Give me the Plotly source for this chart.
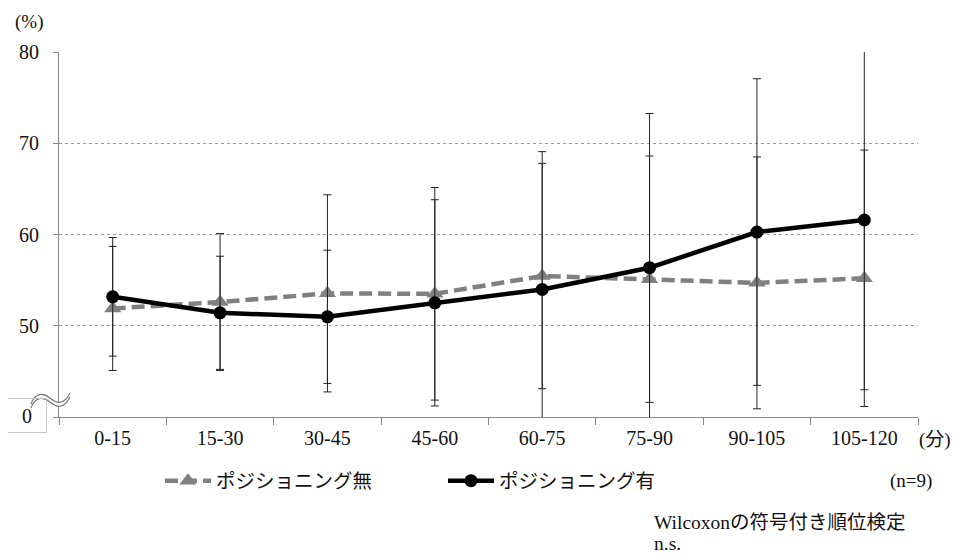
import plotly.graph_objects as go

categories = ["0-15", "15-30", "30-45", "45-60", "60-75", "75-90", "90-105", "105-120"]
without_mean = [51.9, 52.6, 53.55, 53.5, 55.45, 55.1, 54.7, 55.2]
without_sd = [6.8, 7.5, 10.8, 11.65, 12.35, 13.5, 13.8, 14.05]
with_mean = [53.17, 51.42, 50.98, 52.51, 53.98, 56.36, 60.27, 61.59]
with_sd = [6.5, 6.2, 7.3, 11.3, 15.1, 16.9, 16.8, 18.6]
ytick_vals = [40, 50, 60, 70, 80]
ytick_text = ["", "50", "60", "70", "80"]

FONT = "'Liberation Serif', 'Noto Sans CJK JP', serif"
OFF = 8  # page body margin
W, H = 958 - OFF, 557 - OFF
# plot area in page pixels: x 59..918, y 52..417
PX0, PX1, PY0, PY1 = 59, 918, 52, 417
L, R, T, B = PX0 - OFF, W - (PX1 - OFF), PY0 - OFF, H - (PY1 - OFF)
PW, PH = PX1 - PX0, PY1 - PY0


def px(x):
    return (x - PX0) / PW


def py(y):
    return (PY1 - y) / PH


fig = go.Figure()
fig.add_trace(go.Scatter(
    x=categories, y=without_mean, name="ポジショニング無", mode="lines+markers",
    line=dict(color="#808080", width=4.5, dash="13px,6px"),
    marker=dict(symbol="triangle-up", size=15, color="#808080"),
    error_y=dict(type="data", array=without_sd, visible=True, color="#222", thickness=1, width=4),
    legend="legend", showlegend=True,
))
fig.add_trace(go.Scatter(
    x=categories, y=with_mean, name="ポジショニング有", mode="lines+markers",
    line=dict(color="black", width=4.5),
    marker=dict(symbol="circle", size=13, color="black"),
    error_y=dict(type="data", array=with_sd, visible=True, color="#222", thickness=1, width=4),
    legend="legend2", showlegend=True,
))


def P(x, y):
    return f"{px(x):.5f},{py(y):.5f}"


fill_path = ("M " + P(31, 404) + " C " + P(35, 393) + " " + P(43, 392) + " " + P(50, 398)
             + " C " + P(57, 404) + " " + P(64, 405) + " " + P(70, 393)
             + " L " + P(70, 397) + " C " + P(64, 409) + " " + P(57, 408) + " " + P(50, 402)
             + " C " + P(43, 396) + " " + P(35, 397) + " " + P(31, 408) + " Z")
top_path = ("M " + P(31, 404) + " C " + P(35, 393) + " " + P(43, 392) + " " + P(50, 398)
            + " C " + P(57, 404) + " " + P(64, 405) + " " + P(70, 393))
bot_path = ("M " + P(31, 408) + " C " + P(35, 397) + " " + P(43, 396) + " " + P(50, 402)
            + " C " + P(57, 408) + " " + P(64, 409) + " " + P(70, 397))
shapes = [
    dict(type="path", xref="paper", yref="paper", path=fill_path, fillcolor="white",
         line=dict(width=0), layer="above"),
    dict(type="path", xref="paper", yref="paper", path=top_path,
         line=dict(color="#777", width=1.2), layer="above"),
    dict(type="path", xref="paper", yref="paper", path=bot_path,
         line=dict(color="#777", width=1.2), layer="above"),
]

annotations = [
    dict(text="(%)", x=px(29), y=py(22), xref="paper", yref="paper", showarrow=False,
         xanchor="center", yanchor="middle", font=dict(size=19)),
    dict(text="0", x=px(27), y=py(415.5), xref="paper", yref="paper", showarrow=False,
         xanchor="center", yanchor="middle", width=36, height=31,
         bordercolor="#c8c8c8", borderwidth=1, font=dict(size=20)),
    dict(text="(分)", x=px(953), y=py(440), xref="paper", yref="paper", showarrow=False,
         xanchor="right", yanchor="middle", font=dict(size=19)),
    dict(text="(n=9)", x=px(911), y=py(481), xref="paper", yref="paper", showarrow=False,
         xanchor="center", yanchor="middle", font=dict(size=19)),
    dict(text="Wilcoxonの符号付き順位検定", x=px(652), y=py(522), xref="paper", yref="paper",
         showarrow=False, xanchor="left", yanchor="middle", font=dict(size=19.5)),
    dict(text="n.s.", x=px(652), y=py(543), xref="paper", yref="paper",
         showarrow=False, xanchor="left", yanchor="middle", font=dict(size=19.5)),
]

fig.update_layout(
    width=W, height=H,
    margin=dict(l=L, r=R, t=T, b=B, autoexpand=False),
    paper_bgcolor="white", plot_bgcolor="white",
    showlegend=True,
    font=dict(family=FONT, size=20, color="#111"),
    xaxis=dict(
        type="category", range=[-0.5, len(categories) - 0.5], tickson="boundaries",
        ticks="outside", ticklen=7, tickcolor="#888", showgrid=False,
        showline=True, linecolor="#888", linewidth=1, tickfont=dict(size=20),
        ticklabelstandoff=3,
    ),
    yaxis=dict(
        range=[40, 80], tickvals=ytick_vals, ticktext=ytick_text,
        ticks="outside", ticklen=5, tickcolor="#888",
        showgrid=True, gridcolor="#9a9a9a", griddash="dot", gridwidth=1,
        showline=True, linecolor="#888", linewidth=1, zeroline=False,
        tickfont=dict(size=20), ticklabelstandoff=10,
    ),
    legend=dict(orientation="h", x=px(160), y=py(481), xanchor="left", yanchor="middle",
                font=dict(size=19.5), bgcolor="rgba(0,0,0,0)", itemwidth=46),
    legend2=dict(orientation="h", x=px(443), y=py(481), xanchor="left", yanchor="middle",
                 font=dict(size=19.5), bgcolor="rgba(0,0,0,0)", itemwidth=46),
    shapes=shapes,
    annotations=annotations,
)

fig.write_html("out.html")
